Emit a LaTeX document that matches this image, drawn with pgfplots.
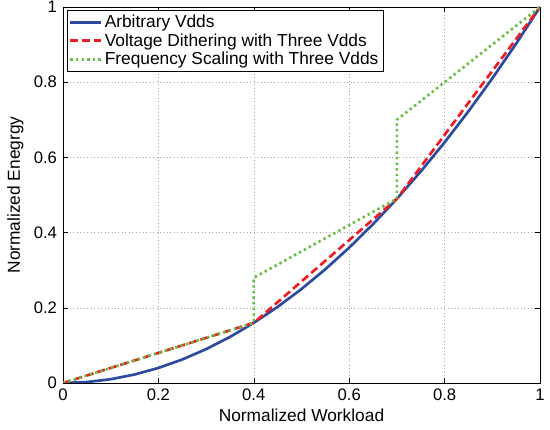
\documentclass[border=0pt]{standalone}
\usepackage{fontspec}
\setmainfont{Liberation Sans}
\usepackage{pgfplots}
\pgfplotsset{compat=1.18}
\definecolor{mblue}{RGB}{43,74,160}
\definecolor{mred}{RGB}{236,30,36}
\definecolor{mgreen}{RGB}{104,190,64}

\begin{document}
\begin{tikzpicture}
  \begin{axis}[
      scale only axis,
      width=357.75pt, height=282pt,
      xmin=0, xmax=1, ymin=0, ymax=1,
      xtick={0,0.2,...,1}, ytick={0,0.2,...,1},
      xticklabels={0,0.2,0.4,0.6,0.8,1},
      yticklabels={0,0.2,0.4,0.6,0.8,1},
      tick align=inside,
      tick style={black, thin},
      major tick length=4pt,
      grid=major,
      grid style={gray!70, dash pattern=on 0.6pt off 2pt},
      axis line style={black, thin},
      tick label style={font=\fontsize{12.5}{14}\selectfont},
      yticklabel style={xshift=-1pt},
      xticklabel style={yshift=-1pt},
      label style={font=\fontsize{13}{15}\selectfont},
      /pgf/number format/assume math mode=true,
      xlabel={Normalized Workload},
      ylabel={Normalized Enegrgy},
      xlabel style={at={(axis description cs:0.5,-0.087)}, anchor=center},
      ylabel style={at={(axis description cs:-0.1,0.5)}, anchor=center},
      legend cell align=left,
      legend style={draw=black, thin, font=\fontsize{13}{15}\selectfont,
        inner sep=1.5pt, row sep=-1pt, at={(0.008,0.992)}, anchor=north west},
      legend image code/.code={\draw[#1, line width=2pt] (0cm,0cm) -- (0.8cm,0cm);},
    ]
    \coordinate (sw) at (rel axis cs:0,0);
    \coordinate (ne) at (rel axis cs:1,1);
    % Arbitrary Vdds
    \addplot[mblue, line width=2pt] coordinates {
      (0,0) (0.05,0.0025) (0.1,0.01) (0.15,0.0225) (0.2,0.04)
      (0.25,0.0625) (0.3,0.09) (0.35,0.1225) (0.4,0.16)
      (0.45,0.2025) (0.5,0.25) (0.55,0.3025) (0.6,0.36)
      (0.65,0.4225) (0.7,0.49) (0.75,0.5625) (0.8,0.64)
      (0.85,0.7225) (0.9,0.81) (0.95,0.9025) (1,1)
    };
    \addlegendentry{Arbitrary Vdds}
    % Voltage dithering
    \addplot[mred, line width=2pt, dash pattern=on 6pt off 3pt] coordinates {
      (0,0) (0.4,0.16) (0.7,0.49) (1,1)
    };
    \addlegendentry{Voltage Dithering with Three Vdds}
    % Frequency scaling
    \addplot[mgreen, line width=2pt, dash pattern=on 1.8pt off 2.4pt] coordinates {
      (0,0) (0.4,0.16) (0.4,0.28) (0.7,0.49) (0.7,0.7) (1,1)
    };
    \addlegendentry{Frequency Scaling with Three Vdds}
  \end{axis}
  \pgfresetboundingbox
  \path ([xshift=-47.25pt,yshift=-35.25pt]sw) rectangle ([xshift=7.5pt,yshift=5.25pt]ne);
\end{tikzpicture}
\end{document}
